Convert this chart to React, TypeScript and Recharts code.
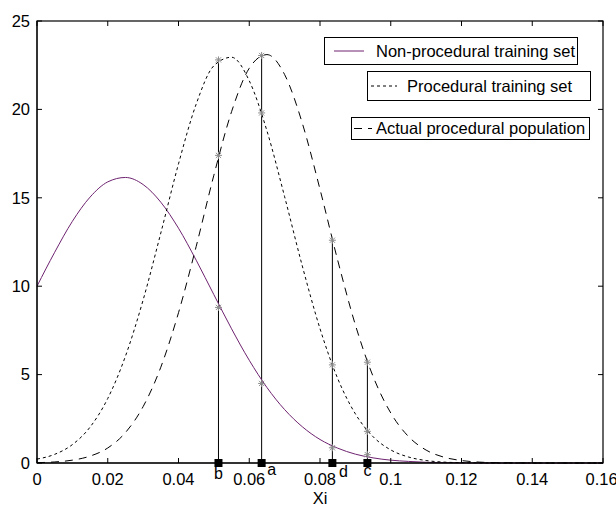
import { ComposedChart, Line, Scatter, XAxis, YAxis, ReferenceLine } from 'recharts';

// sample positions on the Xi axis
const xs = [
  0, 0.005, 0.01, 0.015, 0.02, 0.025, 0.03, 0.035, 0.04, 0.045, 0.05, 0.055, 0.06, 0.065, 0.07, 0.075, 0.08,
  0.085, 0.09, 0.095, 0.1, 0.105, 0.11, 0.115, 0.12, 0.125, 0.13, 0.135, 0.14, 0.145, 0.15, 0.155, 0.16,
];

const nonProcedural = [
  10.0, 11.92, 13.67, 15.04, 15.9, 16.15, 15.75, 14.75, 13.28, 11.47, 9.52, 7.59, 5.81, 4.27, 3.02, 2.05, 1.33,
  0.84, 0.5, 0.29, 0.16, 0.09, 0.04, 0.02, 0.01, 0, 0, 0, 0, 0, 0, 0, 0,
];

const procedural = [
  0.22, 0.49, 1.04, 2.03, 3.65, 6.04, 9.22, 13.01, 16.92, 20.3, 22.47, 22.95, 21.62, 18.79, 15.06, 11.14, 7.6,
  4.78, 2.78, 1.49, 0.74, 0.34, 0.14, 0.05, 0.02, 0.01, 0, 0, 0, 0, 0, 0, 0,
];

const actualPopulation = [
  0.02, 0.06, 0.16, 0.39, 0.85, 1.72, 3.19, 5.42, 8.5, 12.25, 16.28, 19.87, 22.33, 23.1, 21.97, 19.22, 15.48,
  11.47, 7.81, 4.9, 2.83, 1.5, 0.73, 0.33, 0.14, 0.05, 0.02, 0.01, 0, 0, 0, 0, 0,
];

// cut points b, a, d, c
const markerNames = ['b', 'a', 'd', 'c'];
const markerX = [0.0513, 0.0635, 0.0835, 0.0934];
const markerTop = [22.8, 23.05, 12.6, 5.7];
const starNonProc = [8.8, 4.5, 0.86, 0.47];
const starProc = [22.8, 19.8, 5.55, 1.79];
const starActual = [17.4, 23.05, 12.6, 5.7];

const xTicks = [0, 0.02, 0.04, 0.06, 0.08, 0.1, 0.12, 0.14, 0.16];
const yTicks = [0, 5, 10, 15, 20, 25];

const X_MAX = 0.16;
const Y_MAX = 25;

const W = 616;
const H = 509;
const M = { top: 21, right: 13, bottom: 0, left: 0 };
const Y_AXIS_W = 37;
const X_AXIS_H = 46;
// plot box, from the margins above
const box = { l: M.left + Y_AXIS_W, r: W - M.right, t: M.top, b: H - M.bottom - X_AXIS_H };

const FONT = '"Liberation Sans", Arial, sans-serif';
const PURPLE = '#6e2370';

const rows = xs.map((x, i) => ({
  x,
  non: nonProcedural[i],
  proc: procedural[i],
  act: actualPopulation[i],
}));

const squares = markerX.map((x, i) => ({ x, y: 0, name: markerNames[i] }));

const stars = markerX.flatMap((x, i) => [
  { x, y: starNonProc[i] },
  { x, y: starProc[i] },
  { x, y: starActual[i] },
]);

// letter placement next to each square (b and c sit below, a and d to the right)
const letterOffset: Record<string, [number, number]> = {
  b: [0, 16],
  a: [10, 12],
  d: [11, 14],
  c: [0, 13],
};

const fmtTick = (v: number) => (v === 0 ? '0' : String(v));

function SquareShape(props: any) {
  const { cx, cy, payload } = props;
  const [dx, dy] = letterOffset[payload.name] || [0, 14];
  return (
    <g>
      <rect x={cx - 4} y={cy - 4} width={8} height={8} fill="#000" />
      <text x={cx + dx} y={cy + dy} textAnchor="middle" fontSize={16} fontFamily={FONT} fill="#000">
        {payload.name}
      </text>
    </g>
  );
}

function StarShape(props: any) {
  const { cx, cy } = props;
  const r = 3.5;
  const d = 2.6;
  return (
    <g stroke="#8c8c8c" strokeWidth={1}>
      <line x1={cx - r} y1={cy} x2={cx + r} y2={cy} />
      <line x1={cx} y1={cy - r} x2={cx} y2={cy + r} />
      <line x1={cx - d} y1={cy - d} x2={cx + d} y2={cy + d} />
      <line x1={cx - d} y1={cy + d} x2={cx + d} y2={cy - d} />
    </g>
  );
}

// full axes box with inward ticks on top and right (matlab style)
function BoxOverlay() {
  const px = (v: number) => box.l + (v / X_MAX) * (box.r - box.l);
  const py = (v: number) => box.b - (v / Y_MAX) * (box.b - box.t);
  return (
    <svg
      style={{ position: 'absolute', left: 0, top: 0, pointerEvents: 'none', zIndex: 5 }}
      width={W}
      height={H}
      viewBox={`0 0 ${W} ${H}`}
    >
      <rect
        x={box.l}
        y={box.t}
        width={box.r - box.l}
        height={box.b - box.t}
        fill="none"
        stroke="#000"
        strokeWidth={1.2}
      />
      <g stroke="#000" strokeWidth={1}>
        {xTicks.map((t) => (
          <line key={'tt' + t} x1={px(t)} x2={px(t)} y1={box.t} y2={box.t + 5} />
        ))}
        {yTicks.map((t) => (
          <line key={'rt' + t} x1={box.r} x2={box.r - 5} y1={py(t)} y2={py(t)} />
        ))}
      </g>
    </svg>
  );
}

const legendItems = [
  { label: 'Non-procedural training set', left: 324, top: 37, width: 254, height: 28, dash: '', color: PURPLE, sx: 9, sw: 30, tx: 51 },
  { label: 'Procedural training set', left: 367, top: 71, width: 224, height: 30, dash: '3 3', color: '#000', sx: 3, sw: 26, tx: 39 },
  { label: 'Actual procedural population', left: 351, top: 117, width: 239, height: 23, dash: '8 6', color: '#000', sx: 2, sw: 18, tx: 24 },
];

function LegendBoxes() {
  return (
    <>
      {legendItems.map((it) => (
        <div
          key={it.label}
          style={{
            position: 'absolute',
            left: it.left,
            top: it.top,
            width: it.width,
            height: it.height,
            border: '1px solid #000',
            background: '#fff',
            boxSizing: 'border-box',
            zIndex: 6,
          }}
        >
          <svg style={{ position: 'absolute', left: 0, top: 0 }} width={it.width - 2} height={it.height - 2}>
            <line
              x1={it.sx}
              x2={it.sx + it.sw}
              y1={(it.height - 2) / 2}
              y2={(it.height - 2) / 2}
              stroke={it.color}
              strokeWidth={1}
              strokeDasharray={it.dash || undefined}
            />
          </svg>
          <span
            style={{
              position: 'absolute',
              left: it.tx,
              top: 0,
              lineHeight: `${it.height - 2}px`,
              fontSize: 16.5,
              fontFamily: FONT,
              whiteSpace: 'nowrap',
            }}
          >
            {it.label}
          </span>
        </div>
      ))}
    </>
  );
}

export default function App() {
  return (
    <div style={{ position: 'absolute', left: 0, top: 0, width: W, height: H, background: '#fff', overflow: 'hidden' }}>
      <ComposedChart width={W} height={H} data={rows} margin={M}>
        <XAxis
          dataKey="x"
          type="number"
          domain={[0, X_MAX]}
          ticks={xTicks}
          tickFormatter={fmtTick}
          height={X_AXIS_H}
          tickSize={-5}
          tickMargin={15}
          stroke="#000"
          tick={{ fontSize: 16.5, fill: '#000', fontFamily: FONT }}
          label={{ value: 'Xi', position: 'insideBottom', offset: 5, fontSize: 16.5, fill: '#000', fontFamily: FONT }}
        />
        <YAxis
          type="number"
          domain={[0, Y_MAX]}
          ticks={yTicks}
          width={Y_AXIS_W}
          tickSize={-5}
          tickMargin={12}
          stroke="#000"
          tick={{ fontSize: 16.5, fill: '#000', fontFamily: FONT }}
        />
        {markerX.map((x, i) => (
          <ReferenceLine
            key={markerNames[i]}
            segment={[
              { x, y: 0 },
              { x, y: markerTop[i] },
            ]}
            stroke="#000"
            strokeWidth={1}
            ifOverflow="visible"
          />
        ))}
        <Line dataKey="non" type="monotone" stroke={PURPLE} strokeWidth={1} dot={false} isAnimationActive={false} />
        <Line dataKey="proc" type="monotone" stroke="#000" strokeWidth={1} strokeDasharray="3 3" dot={false} isAnimationActive={false} />
        <Line dataKey="act" type="monotone" stroke="#000" strokeWidth={1} strokeDasharray="8 6" dot={false} isAnimationActive={false} />
        <Scatter data={stars} dataKey="y" shape={<StarShape />} isAnimationActive={false} />
        <Scatter data={squares} dataKey="y" shape={<SquareShape />} isAnimationActive={false} />
      </ComposedChart>
      <BoxOverlay />
      <LegendBoxes />
    </div>
  );
}
